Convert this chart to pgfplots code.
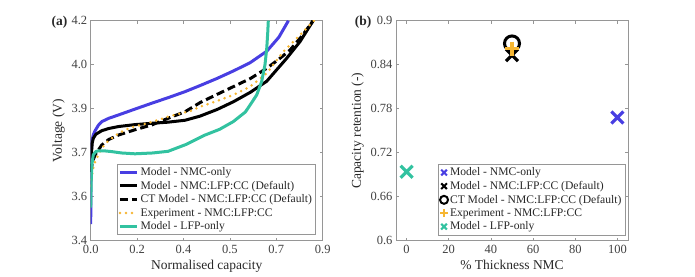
\documentclass[border=0pt]{standalone}
\usepackage{fontspec}
\setmainfont{Liberation Serif}
\usepackage{pgfplots}
\pgfplotsset{compat=1.18}
\definecolor{cblue}{RGB}{72,62,226}
\definecolor{cteal}{RGB}{50,194,160}
\definecolor{corange}{RGB}{246,182,50}
\definecolor{axgray}{RGB}{150,150,150}
\definecolor{tickgray}{RGB}{64,64,64}
\definecolor{labgray}{RGB}{40,40,40}
\pgfplotsset{
  mystyle/.style={
    scale only axis, width=232pt, height=220pt, anchor=south west,
    axis line style={draw=axgray, line width=0.6pt},
    tick style={draw=axgray, line width=0.6pt},
    tick align=inside, major tick length=3pt,
    ticklabel style={font=\fontsize{12.5}{14}\selectfont, text=tickgray},
    xticklabel style={yshift=-1pt},
    label style={font=\fontsize{13.5}{16}\selectfont, text=labgray},
    /pgf/number format/assume math mode=true,
    legend cell align=left,
    legend style={font=\fontsize{11.6}{12.6}\selectfont, draw=axgray, line width=0.6pt,
      inner sep=1.5pt, text=labgray, fill=white},
  }
}
\begin{document}
\begin{tikzpicture}[x=1pt,y=1pt]
\path[use as bounding box] (0,0) rectangle (695,276);
\begin{axis}[mystyle, at={(90.7pt,35.3pt)},
  xmin=0, xmax=0.9, ymin=3.4, ymax=4.2,
  xtick={0,0.18,0.36,0.54,0.72,0.9}, xticklabels={0.0,0.2,0.4,0.5,0.7,0.9},
  ytick={3.4,3.56,3.72,3.88,4.04,4.2}, yticklabels={3.4,3.6,3.7,3.9,4.0,4.2},
  xlabel={Normalised capacity}, ylabel={Voltage (V)},
  legend style={at={(0.112,0.026)}, anchor=south west},
]
\addplot[cblue, line width=3pt] coordinates {
(0,3.46) (0.001,3.60) (0.002,3.70) (0.004,3.76) (0.01,3.785) (0.017,3.80) (0.03,3.82)
(0.043,3.833) (0.07,3.845) (0.107,3.857) (0.17,3.878) (0.237,3.90) (0.30,3.92)
(0.366,3.942) (0.424,3.964) (0.49,3.99) (0.553,4.017) (0.618,4.047) (0.683,4.089)
(0.73,4.14) (0.767,4.2)};
\addlegendentry{Model - NMC-only}
\addplot[black, line width=3pt] coordinates {
(0,3.65) (0.003,3.72) (0.006,3.755) (0.01,3.772) (0.02,3.787) (0.043,3.80) (0.07,3.808)
(0.107,3.815) (0.17,3.822) (0.237,3.827) (0.30,3.831) (0.366,3.838) (0.424,3.853)
(0.49,3.877) (0.553,3.905) (0.62,3.94) (0.683,3.98) (0.72,4.02) (0.76,4.063)
(0.812,4.124) (0.863,4.2)};
\addlegendentry{Model - NMC:LFP:CC (Default)}
\addplot[black, line width=3pt, dash pattern=on 8pt off 4pt] coordinates {
(0,3.65) (0.008,3.69) (0.017,3.712) (0.043,3.748) (0.07,3.768) (0.107,3.784)
(0.17,3.803) (0.237,3.821) (0.30,3.845) (0.366,3.869) (0.424,3.902) (0.49,3.932)
(0.553,3.96) (0.62,3.99) (0.683,4.027) (0.73,4.06) (0.773,4.093) (0.82,4.145) (0.863,4.2)};
\addlegendentry{CT Model - NMC:LFP:CC (Default)}
\addplot[corange, line width=2.8pt, line cap=round, dash pattern=on 0pt off 6pt] coordinates {
(0,3.60) (0.005,3.64) (0.01,3.665) (0.017,3.687) (0.03,3.712) (0.043,3.736) (0.06,3.756)
(0.081,3.772) (0.105,3.788) (0.133,3.803) (0.165,3.814) (0.204,3.823) (0.249,3.835)
(0.30,3.851) (0.35,3.863) (0.392,3.873) (0.424,3.887) (0.49,3.908) (0.553,3.93)
(0.618,3.96) (0.683,4.009) (0.747,4.087) (0.812,4.148) (0.866,4.2)};
\addlegendentry{Experiment - NMC:LFP:CC}
\addplot[cteal, line width=3pt] coordinates {
(0,3.52) (0.002,3.62) (0.005,3.68) (0.01,3.712) (0.02,3.724) (0.03,3.727) (0.05,3.727)
(0.081,3.724) (0.12,3.719) (0.172,3.716) (0.24,3.719) (0.30,3.725) (0.37,3.75)
(0.443,3.784) (0.50,3.805) (0.553,3.833) (0.60,3.868) (0.618,3.893) (0.644,3.93)
(0.663,3.978) (0.676,4.039) (0.683,4.10) (0.687,4.16) (0.689,4.2)};
\addlegendentry{Model - LFP-only}
\end{axis}
\node[anchor=east, font=\bfseries\fontsize{13.5}{16}\selectfont, text=labgray] at (71,254) {(a)};

\begin{axis}[mystyle, at={(396pt,35.3pt)},
  xmin=-5, xmax=105, ymin=0.6, ymax=0.9,
  xtick={0,20,40,60,80,100}, xticklabels={0,20,40,60,80,100},
  ytick={0.6,0.66,0.72,0.78,0.84,0.9}, yticklabels={0.6,0.66,0.72,0.78,0.84,0.9},
  xlabel={\% Thickness NMC}, ylabel={Capacity retention (-)},
  legend style={at={(0.182,0.025)}, anchor=south west},
  legend image post style={mark size=4pt, line width=2pt},
]
\addplot[only marks, mark=x, mark size=8.5pt, line width=3.2pt, cblue] coordinates {(100,0.768)};
\addlegendentry{Model - NMC-only}
\addplot[only marks, mark=x, mark size=8.5pt, line width=3.2pt, black] coordinates {(50,0.853)};
\addlegendentry{Model - NMC:LFP:CC (Default)}
\addplot[only marks, mark=o, mark size=7.5pt, line width=3pt, black] coordinates {(50,0.869)};
\addlegendentry{CT Model - NMC:LFP:CC (Default)}
\addplot[only marks, mark=+, mark size=7pt, line width=3.2pt, corange] coordinates {(50,0.862)};
\addlegendentry{Experiment - NMC:LFP:CC}
\addplot[only marks, mark=x, mark size=8.5pt, line width=3.2pt, cteal] coordinates {(0,0.694)};
\addlegendentry{Model - LFP-only}
\end{axis}
\node[anchor=east, font=\bfseries\fontsize{13.5}{16}\selectfont, text=labgray] at (375,254) {(b)};
\end{tikzpicture}
\end{document}
